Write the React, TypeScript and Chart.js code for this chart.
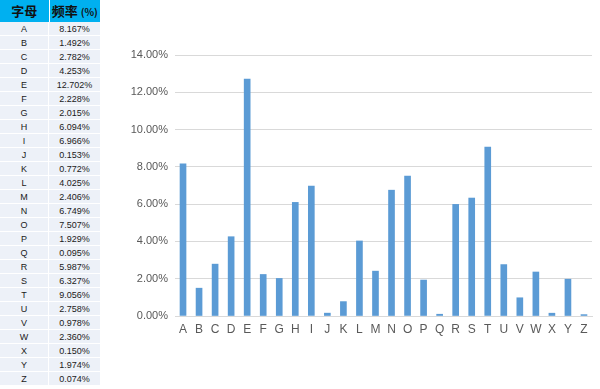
import React, { useEffect, useRef } from "react";
import { Chart, registerables } from "chart.js";

Chart.register(...registerables);

const letters = ["A","B","C","D","E","F","G","H","I","J","K","L","M","N","O","P","Q","R","S","T","U","V","W","X","Y","Z"];
const frequencies = [8.167,1.492,2.782,4.253,12.702,2.228,2.015,6.094,6.966,0.153,0.772,4.025,2.406,6.749,7.507,1.929,0.095,5.987,6.327,9.056,2.758,0.978,2.360,0.150,1.974,0.074];
const headers = ["字母", "频率", "(%)"];

const FONT = "'Liberation Sans', Arial, sans-serif";

export default function App() {
  const canvasRef = useRef<HTMLCanvasElement | null>(null);

  useEffect(() => {
    document.body.style.margin = "0";
    const ctx = canvasRef.current!;
    const chart = new Chart(ctx, {
      type: "bar",
      data: {
        labels: letters,
        datasets: [{
          data: frequencies,
          backgroundColor: "#5B9BD5",
          borderWidth: 0,
          barThickness: 6,
        }],
      },
      options: {
        animation: false,
        responsive: false,
        maintainAspectRatio: false,
        layout: { padding: { top: 55, right: 8, left: 0, bottom: 0 } },
        plugins: { legend: { display: false }, tooltip: { enabled: false } },
        scales: {
          x: {
            grid: { display: false, drawTicks: false },
            border: { display: true, color: "#D9D9D9", width: 1 },
            ticks: { color: "#595959", font: { family: FONT, size: 12 }, padding: 6, maxRotation: 0, autoSkip: false },
            afterFit: (s: any) => { s.height = 73; },
          },
          y: {
            min: 0,
            max: 14,
            ticks: {
              stepSize: 2,
              color: "#595959",
              font: { family: FONT, size: 11 },
              padding: 7,
              callback: (v: any) => Number(v).toFixed(2) + "%",
            },
            grid: { color: "#D9D9D9", lineWidth: 1, drawTicks: false },
            border: { display: false },
            afterFit: (s: any) => { s.width = 75; },
          },
        },
      },
    });
    return () => chart.destroy();
  }, []);

  const cellBase: React.CSSProperties = {
    height: 14,
    fontSize: 9,
    fontFamily: FONT,
    color: "#1a1a1a",
    textAlign: "center",
    background: "#EDF1F8",
    borderBottom: "1px solid #fff",
    boxSizing: "border-box",
    lineHeight: "14px",
  };
  const headCell: React.CSSProperties = {
    textAlign: "center",
    fontFamily: "'Noto Sans CJK SC', sans-serif",
    fontWeight: 700,
    fontSize: 13,
    lineHeight: "22px",
    color: "#111",
    whiteSpace: "nowrap",
  };

  return (
    <div style={{ position: "fixed", left: 0, top: 0, width: 600, height: 389, background: "#fff" }}>
      <div style={{ position: "absolute", left: 0, top: 0, width: 100 }}>
        <div style={{ display: "flex", height: 22, background: "#00B0F0" }}>
          <div style={{ ...headCell, width: 49, borderRight: "1px solid #fff" }}>{headers[0]}</div>
          <div style={{ ...headCell, width: 51 }}>
            {headers[1]} <span style={{ fontSize: 10 }}>{headers[2]}</span>
          </div>
        </div>
        {letters.map((l, i) => (
          <div key={l} style={{ display: "flex" }}>
            <div style={{ ...cellBase, width: 49, borderRight: "1px solid #fff" }}>{l}</div>
            <div style={{ ...cellBase, width: 51 }}>{frequencies[i].toFixed(3)}%</div>
          </div>
        ))}
      </div>
      <canvas ref={canvasRef} width={500} height={389} style={{ position: "absolute", left: 100, top: 0, width: 500, height: 389 }} />
    </div>
  );
}
